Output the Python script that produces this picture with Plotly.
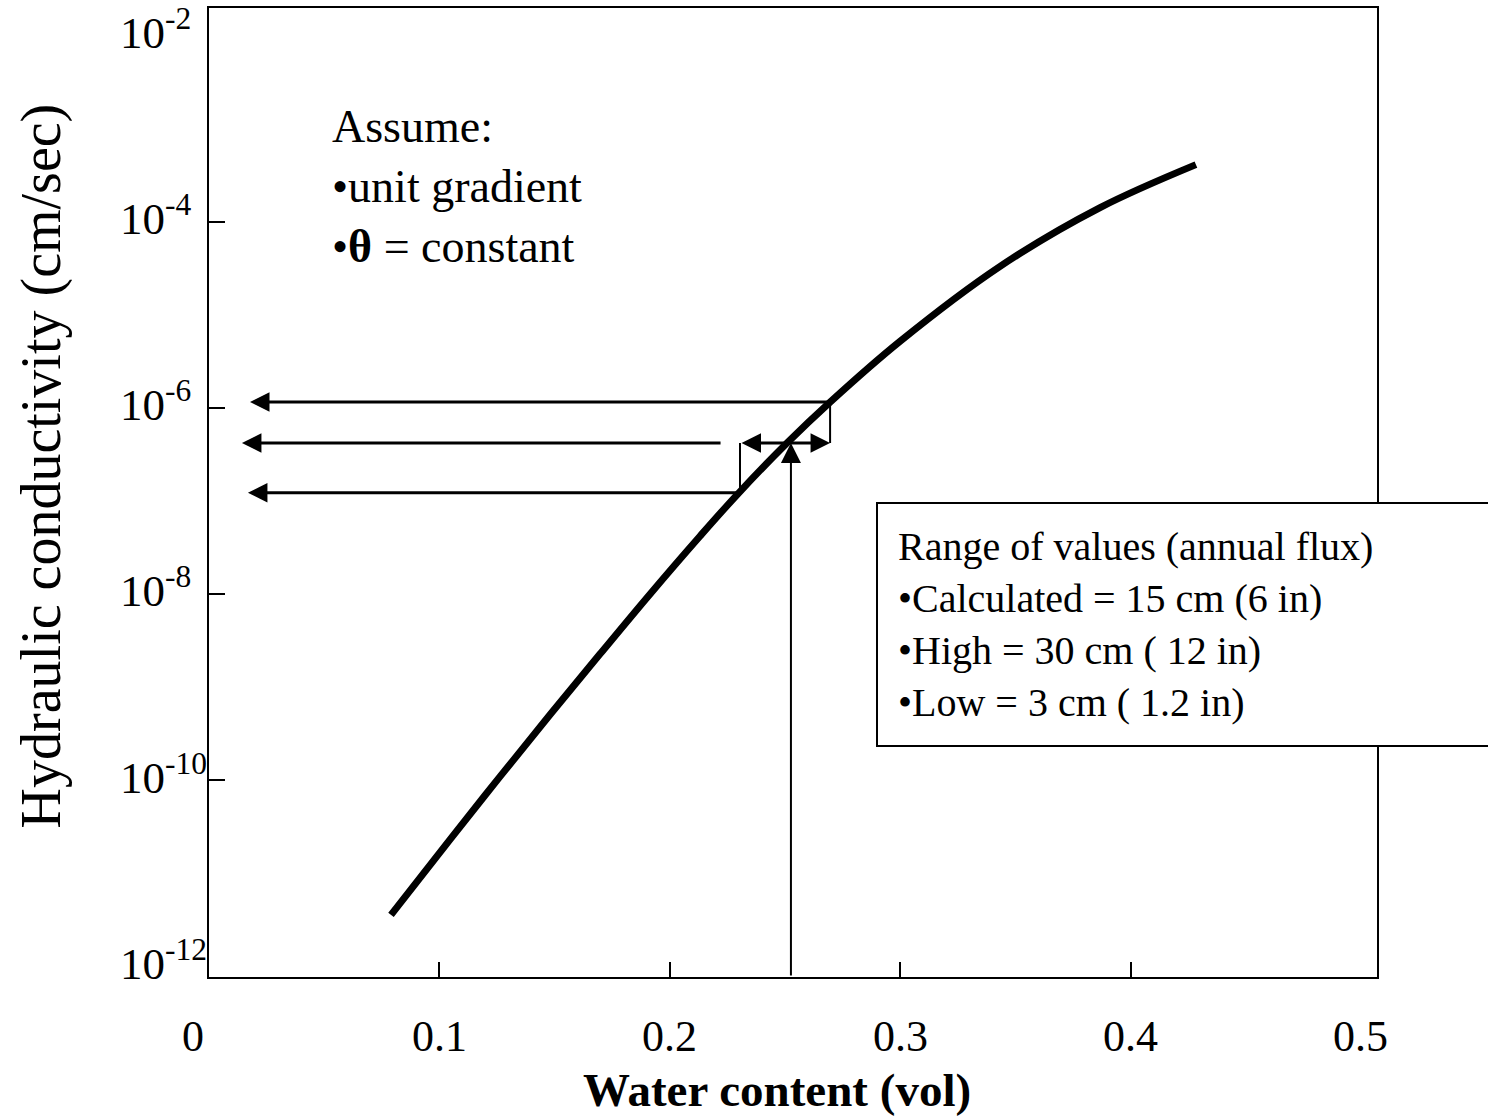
import math
import plotly.graph_objects as go

# ---- data ----
theta = [0.079, 0.1046, 0.1263, 0.148, 0.1697, 0.1914, 0.2131, 0.2296, 0.2509,
         0.2696, 0.300, 0.3434, 0.3868, 0.4284]
K = [3.57e-12, 2.30e-11, 1.09e-10, 5.04e-10, 2.26e-9, 9.95e-9, 4.17e-8, 1.19e-7,
     4.18e-7, 1.15e-6, 5.18e-6, 3.30e-5, 1.41e-4, 4.08e-4]

case_names = ["High", "Calculated", "Low"]
case_theta = [0.2696, 0.2526, 0.2305]
case_K = [1.15e-6, 4.18e-7, 1.22e-7]
case_arrow_tip_theta = [0.0178, 0.0143, 0.0169]
calc_line_start_theta = 0.2227

x_ticks = [0.1, 0.2, 0.3, 0.4]
x_label_vals = [0, 0.1, 0.2, 0.3, 0.4, 0.5]
x_label_text = ["0", "0.1", "0.2", "0.3", "0.4", "0.5"]
y_tick_exps = [-10, -8, -6, -4]
y_label_exps = [-2, -4, -6, -8, -10, -12]

x_range = [0, 0.507]
y_range_log = [-12.114, -1.707]

FONT = "Liberation Serif, Times New Roman, serif"

fig = go.Figure()
fig.add_trace(go.Scatter(x=theta, y=K, mode="lines",
                         line=dict(color="black", width=7, shape="spline", smoothing=1.0),
                         hoverinfo="skip", showlegend=False))

hi, ca, lo = 0, 1, 2
# vertical connectors from High and Low to the calculated level
for i in (hi, lo):
    fig.add_trace(go.Scatter(x=[case_theta[i], case_theta[i]], y=[case_K[i], case_K[ca]],
                             mode="lines", line=dict(color="black", width=2),
                             hoverinfo="skip", showlegend=False))

ann = []
def arrow(x, y, ax, ay, width, size, side="end"):
    ann.append(dict(x=x, y=y, ax=ax, ay=ay, xref="x", yref="y", axref="x", ayref="y",
                    text="", showarrow=True, arrowhead=2, arrowsize=size,
                    arrowwidth=width, arrowcolor="black", arrowside=side,
                    startarrowhead=2, startarrowsize=size))

# horizontal arrows to the K axis
arrow(case_arrow_tip_theta[hi], math.log10(case_K[hi]), case_theta[hi], math.log10(case_K[hi]), 3, 1.3)
arrow(case_arrow_tip_theta[lo], math.log10(case_K[lo]), case_theta[lo], math.log10(case_K[lo]), 3, 1.3)
arrow(case_arrow_tip_theta[ca], math.log10(case_K[ca]), calc_line_start_theta, math.log10(case_K[ca]), 3, 1.3)
# double arrow (range)
arrow(case_theta[hi], math.log10(case_K[ca]), case_theta[lo], math.log10(case_K[ca]), 3, 1.3, side="end+start")
# vertical arrow from axis up to the curve
arrow(case_theta[ca], math.log10(case_K[ca]), case_theta[ca], y_range_log[0], 2, 2.0)

# y tick labels (left aligned like the reference)
for e in y_label_exps:
    ann.append(dict(x=-0.0779, xref="paper", y=e, yref="y", xanchor="left", yanchor="middle",
                    text=f"10<sup>{e}</sup>", showarrow=False, yshift=6,
                    font=dict(family=FONT, size=45, color="black")))
# x tick labels
for v, t in zip(x_label_vals, x_label_text):
    ann.append(dict(x=v, xref="x", y=-0.0618, yref="paper", xanchor="center", yanchor="middle",
                    text=t, showarrow=False, xshift=(-16 if v == 0 else 0),
                    font=dict(family=FONT, size=44, color="black")))

# axis titles
ann.append(dict(x=-0.1438, y=0.527, xref="paper", yref="paper", textangle=-90,
                text="Hydraulic conductivity (cm/sec)", showarrow=False,
                xanchor="center", yanchor="middle",
                font=dict(family=FONT, size=56, color="black")))
ann.append(dict(x=0.486, y=-0.1164, xref="paper", yref="paper",
                text="<b>Water content (vol)</b>", showarrow=False,
                xanchor="center", yanchor="middle",
                font=dict(family=FONT, size=47, color="black")))

# text blocks
ann.append(dict(x=0.1036, y=0.906, xref="paper", yref="paper", xanchor="left", yanchor="top",
                align="left", showarrow=False,
                text="Assume:<br>•unit gradient<br>•<b>θ</b> = constant",
                font=dict(family=FONT, size=46, color="black")))
ann.append(dict(x=0.571, y=0.490, xref="paper", yref="paper", xanchor="left", yanchor="top",
                align="left", showarrow=False, width=620, borderpad=20,
                bgcolor="white", bordercolor="black", borderwidth=2,
                text="Range of values (annual flux)<br>•Calculated = 15 cm (6 in)<br>"
                     "•High = 30 cm ( 12 in)<br>•Low = 3 cm ( 1.2 in)",
                font=dict(family=FONT, size=40, color="black")))

fig.update_layout(
    width=1488, height=1118,
    margin=dict(l=209, r=111, t=6, b=141),
    paper_bgcolor="white", plot_bgcolor="white",
    showlegend=False,
    annotations=ann,
    xaxis=dict(range=x_range, showgrid=False, zeroline=False, showline=True, mirror=True,
               linecolor="black", linewidth=2, tickvals=x_ticks, ticks="inside",
               ticklen=15, tickwidth=2, tickcolor="black", showticklabels=False),
    yaxis=dict(type="log", range=y_range_log, showgrid=False, zeroline=False, showline=True,
               mirror=True, linecolor="black", linewidth=2,
               tickvals=[10 ** e for e in y_tick_exps], ticks="inside", ticklen=16,
               tickwidth=2, tickcolor="black", showticklabels=False),
)

fig.write_html("out.html")
